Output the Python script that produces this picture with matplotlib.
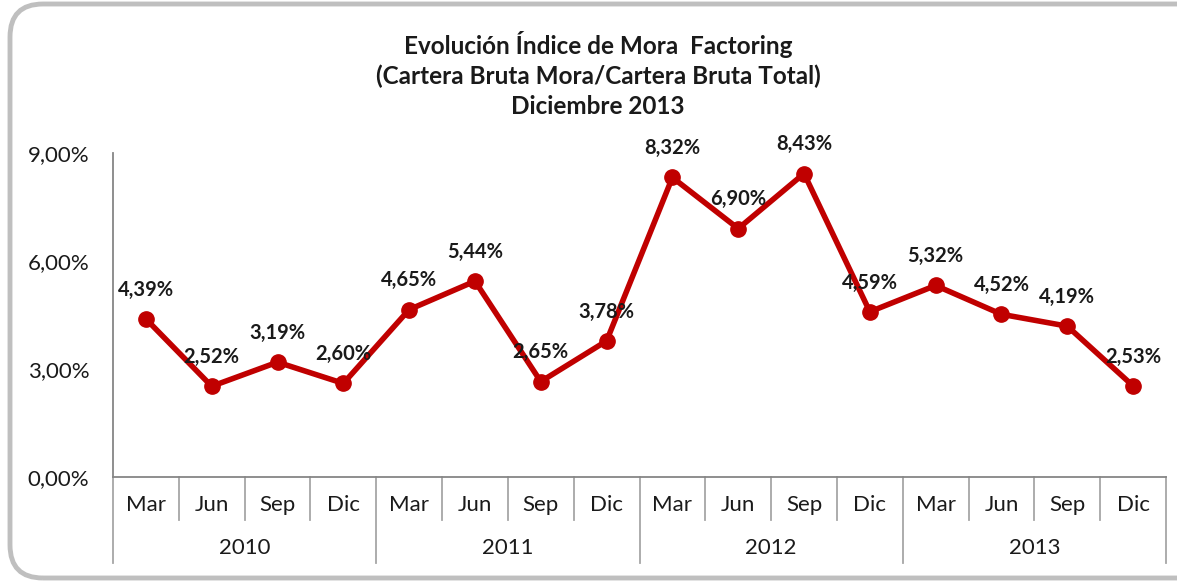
import matplotlib
matplotlib.use("Agg")
import matplotlib.pyplot as plt
from matplotlib.patches import FancyBboxPatch
from matplotlib.ticker import FuncFormatter
import numpy as np

plt.rcParams['font.family'] = ['Lato', 'DejaVu Sans']

# data
years = ['2010', '2011', '2012', '2013']
months = ['Mar', 'Jun', 'Sep', 'Dic']
mora = [4.39, 2.52, 3.19, 2.60,
        4.65, 5.44, 2.65, 3.78,
        8.32, 6.90, 8.43, 4.59,
        5.32, 4.52, 4.19, 2.53]
yticks = [0, 3, 6, 9]

W, H = 1177, 588
fig = plt.figure(figsize=(W / 100, H / 100), dpi=100)

# rounded frame around the chart (right side runs off the image)
frame = FancyBboxPatch((10 / W, 10 / H), 1260 / W, 574 / H,
                       boxstyle="round,pad=0,rounding_size=0.028",
                       transform=fig.transFigure, fill=False,
                       edgecolor='#bfbfbf', linewidth=3.5, mutation_aspect=W / H)
fig.patches.append(frame)

ax = fig.add_axes([113 / W, (H - 477) / H, (1166 - 113) / W, (477 - 153) / H])
x = np.arange(len(mora))
ax.plot(x, mora, color='#c00000', linewidth=4, marker='o', markersize=11,
        markerfacecolor='#c00000', markeredgecolor='#c00000', zorder=3,
        solid_joinstyle='round')

for xi, v in zip(x, mora):
    ax.annotate('{:.2f}%'.format(v).replace('.', ','), (xi, v),
                xytext=(0, 21), textcoords='offset points',
                ha='center', va='center', fontsize=14.5, fontweight='bold',
                color='#1a1a1a', annotation_clip=False, zorder=4)

ax.set_xlim(-0.5, len(mora) - 0.5)
ax.set_ylim(0, 9)
ax.set_yticks(yticks)
ax.yaxis.set_major_formatter(FuncFormatter(lambda v, p: '{:.2f}%'.format(v).replace('.', ',')))
ax.tick_params(axis='y', length=0, pad=17, labelsize=16, labelcolor='#1a1a1a')
ax.set_xticks([])
for s in ['top', 'right']:
    ax.spines[s].set_visible(False)
for s in ['left', 'bottom']:
    ax.spines[s].set_color('#868686')
    ax.spines[s].set_linewidth(1.3)

# multi-level category axis
tr = ax.get_xaxis_transform()
ph = 477 - 153
for i in range(len(mora) + 1):
    bound = i - 0.5
    depth = 86 / ph if i % 4 == 0 else 43 / ph
    ax.plot([bound, bound], [0, -depth], transform=tr, color='#a6a6a6',
            linewidth=1.3, clip_on=False)
for i in x:
    ax.text(i, -28 / ph, months[i % 4], transform=tr, ha='center', va='center',
            fontsize=16, color='#1a1a1a')
for j, yr in enumerate(years):
    ax.text(j * 4 + 1.5, -71 / ph, yr, transform=tr, ha='center', va='center',
            fontsize=16, color='#1a1a1a')

fig.text(598 / W, 1 - 44 / H, 'Evolución Índice de Mora  Factoring', ha='center', va='center',
         fontsize=17.5, fontweight='bold', color='#1a1a1a')
fig.text(598 / W, 1 - 76 / H, '(Cartera Bruta Mora/Cartera Bruta Total)', ha='center', va='center',
         fontsize=17.5, fontweight='bold', color='#1a1a1a')
fig.text(598 / W, 1 - 107 / H, 'Diciembre 2013', ha='center', va='center',
         fontsize=17.5, fontweight='bold', color='#1a1a1a')

plt.savefig("out.png", dpi=100)
